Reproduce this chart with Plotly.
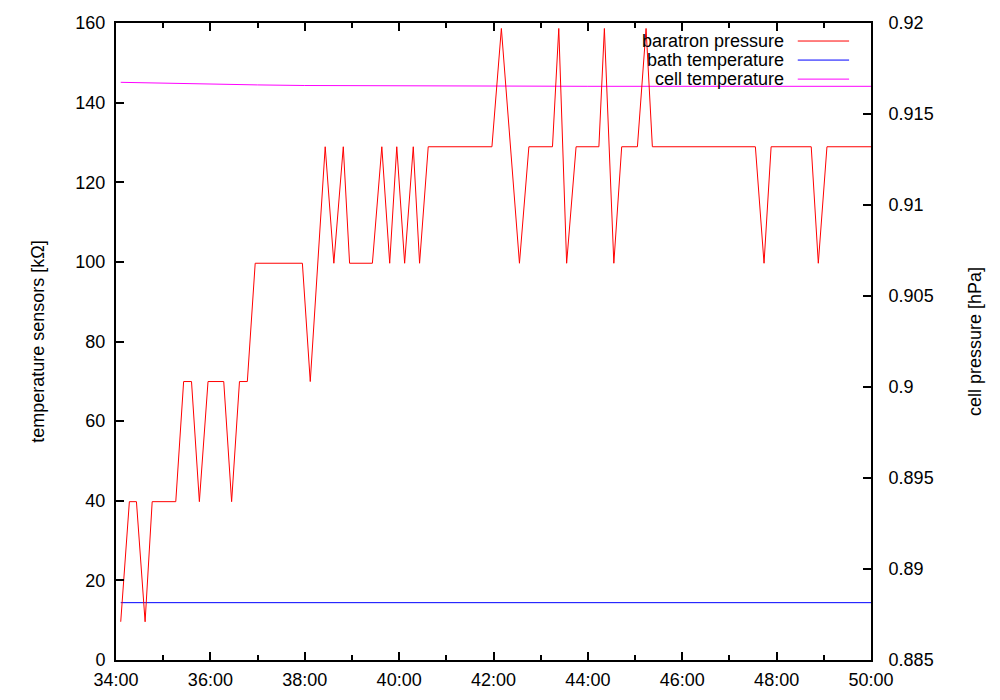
import plotly.graph_objects as go

FONT = "Liberation Sans"
DAY = "2000-01-01 00:"

# baratron pressure (right axis, hPa) - vertices of the red trace
baratron_time = [
    "34:06", "34:17", "34:26", "34:37", "34:46", "35:16", "35:26", "35:36",
    "35:46", "35:57", "36:17", "36:27", "36:37", "36:47", "36:57", "37:57",
    "38:07", "38:26", "38:37", "38:49", "38:57", "39:26", "39:38", "39:48",
    "39:57", "40:07", "40:18", "40:26", "40:37", "41:58", "42:10", "42:33",
    "42:45", "43:15", "43:23", "43:33", "43:45", "44:14", "44:21", "44:33",
    "44:43", "45:03", "45:14", "45:22", "47:33", "47:44", "47:53", "48:44",
    "48:53", "49:04", "50:00",
]
baratron_hpa = [
    0.8871, 0.8937, 0.8937, 0.8871, 0.8937, 0.8937, 0.9003, 0.9003,
    0.8937, 0.9003, 0.9003, 0.8937, 0.9003, 0.9003, 0.9068, 0.9068,
    0.9003, 0.9132, 0.9068, 0.9132, 0.9068, 0.9068, 0.9132, 0.9068,
    0.9132, 0.9068, 0.9132, 0.9068, 0.9132, 0.9132, 0.9197, 0.9068,
    0.9132, 0.9132, 0.9197, 0.9068, 0.9132, 0.9132, 0.9197, 0.9068,
    0.9132, 0.9132, 0.9197, 0.9132, 0.9132, 0.9068, 0.9132, 0.9132,
    0.9068, 0.9132, 0.9132,
]

# bath temperature sensor (left axis, kOhm)
bath_time = ["34:06", "35:13", "38:00", "42:00", "46:00", "50:00"]
bath_kohm = [14.4, 14.4, 14.4, 14.4, 14.4, 14.4]

# cell temperature sensor (left axis, kOhm)
cell_time = ["34:06", "35:00", "36:00", "37:00", "38:00", "40:00", "42:00", "44:00", "47:00", "50:00"]
cell_kohm = [145.1, 144.85, 144.65, 144.45, 144.3, 144.2, 144.15, 144.1, 144.1, 144.1]

y2_ticks = [0.885, 0.89, 0.895, 0.9, 0.905, 0.91, 0.915, 0.92]
y2_labels = ["0.885", "0.89", "0.895", "0.9", "0.905", "0.91", "0.915", "0.92"]

legend_names = ["baratron pressure", "bath temperature", "cell temperature"]
legend_colors = ["#ff0000", "#0000ff", "#ff00ff"]


def t(values):
    return [DAY + v for v in values]


fig = go.Figure()
fig.add_trace(go.Scatter(x=t(cell_time), y=cell_kohm, mode="lines",
                         line=dict(color=legend_colors[2], width=1), name=legend_names[2]))
fig.add_trace(go.Scatter(x=t(bath_time), y=bath_kohm, mode="lines",
                         line=dict(color=legend_colors[1], width=1), name=legend_names[1]))
fig.add_trace(go.Scatter(x=t(baratron_time), y=baratron_hpa, mode="lines", yaxis="y2",
                         line=dict(color=legend_colors[0], width=1), name=legend_names[0]))

# gnuplot-like key: right-aligned text followed by a line sample
for i, (name, color) in enumerate(zip(legend_names, legend_colors)):
    yy = 0.9717 - i * 0.0299
    fig.add_annotation(xref="paper", yref="paper", x=0.887, y=yy, text=name,
                       showarrow=False, xanchor="right", yanchor="middle",
                       font=dict(family=FONT, size=18, color="black"))
    fig.add_shape(type="line", xref="paper", yref="paper", x0=0.903, x1=0.971,
                  y0=yy, y1=yy, line=dict(color=color, width=1))

axis_common = dict(showgrid=False, zeroline=False, showline=True, linecolor="black",
                   linewidth=2, ticks="inside", tickcolor="black", tickwidth=1.5,
                   ticklen=8, automargin=False,
                   tickfont=dict(family=FONT, size=18, color="black"))

# the page body adds an 8px offset, margins compensate for it
fig.update_layout(
    width=1000, height=700,
    margin=dict(l=108, r=137, t=15, b=48),
    plot_bgcolor="white", paper_bgcolor="white",
    showlegend=False,
    font=dict(family=FONT, size=18, color="black"),
    xaxis=dict(type="date", range=[DAY + "34:00", DAY + "50:00"], tickformat="%M:%S",
               tick0=DAY + "34:00", dtick=120000, mirror="ticks", ticklabelstandoff=2,
               minor=dict(dtick=60000, ticks="inside", ticklen=5, tickcolor="black"),
               **axis_common),
    yaxis=dict(range=[0, 160], dtick=20, mirror=True, ticklabelstandoff=5,
               title=dict(text="temperature sensors [kΩ]", standoff=26,
                          font=dict(family=FONT, size=18)),
               **axis_common),
    yaxis2=dict(overlaying="y", side="right", range=[0.885, 0.92],
                tickvals=y2_ticks, ticktext=y2_labels, ticklabelstandoff=12,
                title=dict(text="cell pressure [hPa]", standoff=36,
                           font=dict(family=FONT, size=18)),
                **axis_common),
)

fig.write_html("out.html")
